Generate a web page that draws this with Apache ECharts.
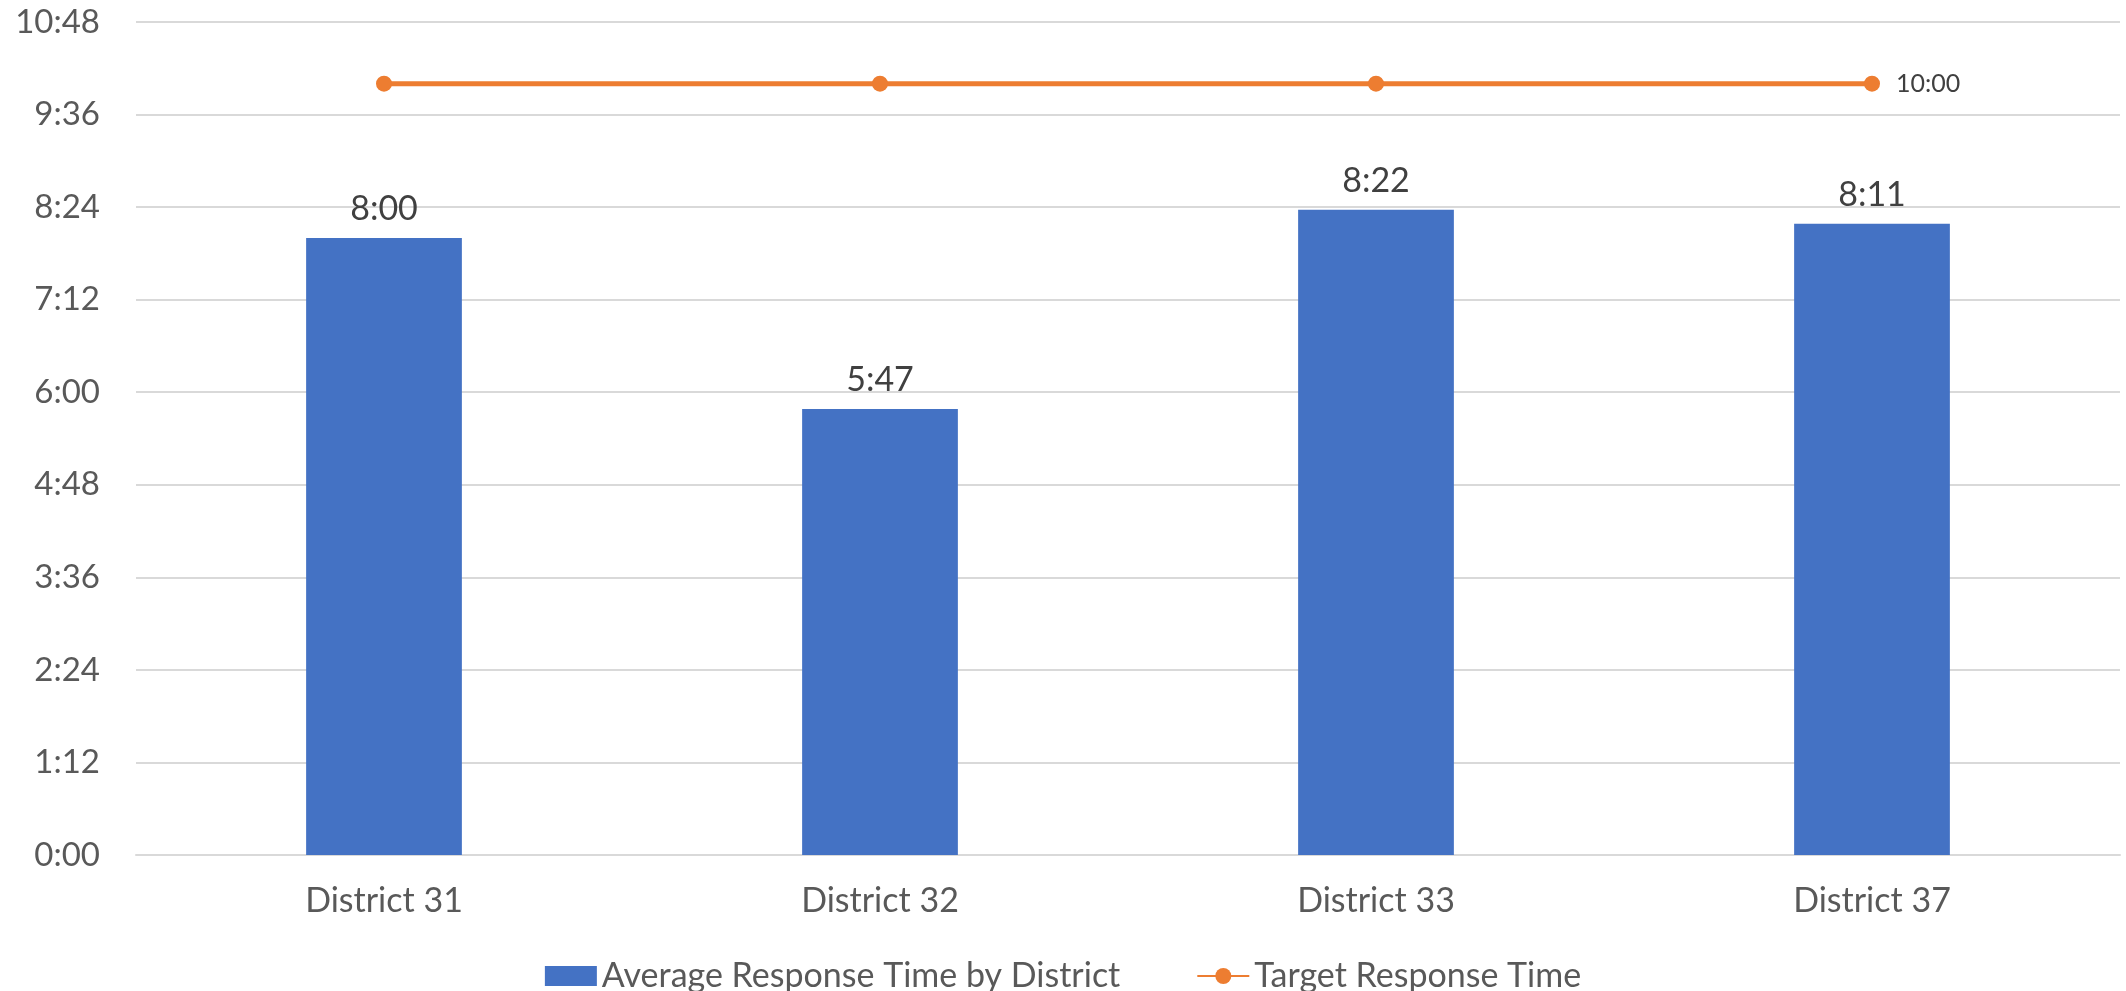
<!DOCTYPE html>
<html>
<head>
<meta charset="utf-8">
<script src="https://cdn.jsdelivr.net/npm/echarts@6/dist/echarts.min.js"></script>
<style>
html,body{margin:0;padding:0;background:#fff;}
#chart{width:2126px;height:991px;}
</style>
</head>
<body>
<div id="chart"></div>
<script>
// Data (times in seconds)
const categories = ['District 31', 'District 32', 'District 33', 'District 37'];
const avgResponse = [480, 347, 502, 491];   // 8:00, 5:47, 8:22, 8:11
const targetResponse = [600, 600, 600, 600]; // 10:00
const seriesNames = ['Average Response Time by District', 'Target Response Time'];
const yMin = 0, yMax = 648, yInterval = 72;

function fmt(s) {
  const m = Math.floor(s / 60);
  const sec = Math.round(s - m * 60);
  return m + ':' + (sec < 10 ? '0' : '') + sec;
}

const FONT = 'Lato, "Open Sans", sans-serif';
const chart = echarts.init(document.getElementById('chart'));
chart.setOption({
  animation: false,
  textStyle: { fontFamily: FONT },
  grid: { left: 136, right: 6, top: 22, bottom: 136, containLabel: false },
  legend: {
    left: 'center',
    top: 954,
    itemWidth: 52,
    itemHeight: 20,
    itemGap: 76,
    textStyle: { fontSize: 34, color: '#595959', fontFamily: FONT },
    data: [{ name: seriesNames[0], icon: 'rect' }, { name: seriesNames[1] }]
  },
  xAxis: {
    type: 'category',
    data: categories,
    axisLine: { show: true, lineStyle: { color: '#d9d9d9', width: 2 } },
    axisTick: { show: false },
    axisLabel: { fontSize: 34, color: '#595959', margin: 29, fontFamily: FONT }
  },
  yAxis: {
    type: 'value',
    min: yMin, max: yMax, interval: yInterval,
    axisLine: { show: false },
    axisTick: { show: false },
    splitLine: { lineStyle: { color: '#d9d9d9', width: 2 } },
    axisLabel: { fontSize: 33, color: '#595959', margin: 36, fontFamily: FONT, formatter: fmt }
  },
  series: [
    {
      name: seriesNames[0],
      type: 'bar',
      data: avgResponse,
      barWidth: '31.4%',
      itemStyle: { color: '#4472C4' },
      label: { show: true, position: 'top', distance: 12, fontSize: 34, color: '#404040', fontFamily: FONT, formatter: p => fmt(p.value) }
    },
    {
      name: seriesNames[1],
      type: 'line',
      data: targetResponse.map((v, i) => i === targetResponse.length - 1
        ? { value: v, label: { show: true, position: 'right', distance: 16, fontSize: 25, color: '#404040', fontFamily: FONT, formatter: p => fmt(p.value) } }
        : v),
      symbol: 'circle',
      symbolSize: 16,
      lineStyle: { color: '#ED7D31', width: 5 },
      itemStyle: { color: '#ED7D31' },
      label: { show: false }
    }
  ]
});
</script>
</body>
</html>
